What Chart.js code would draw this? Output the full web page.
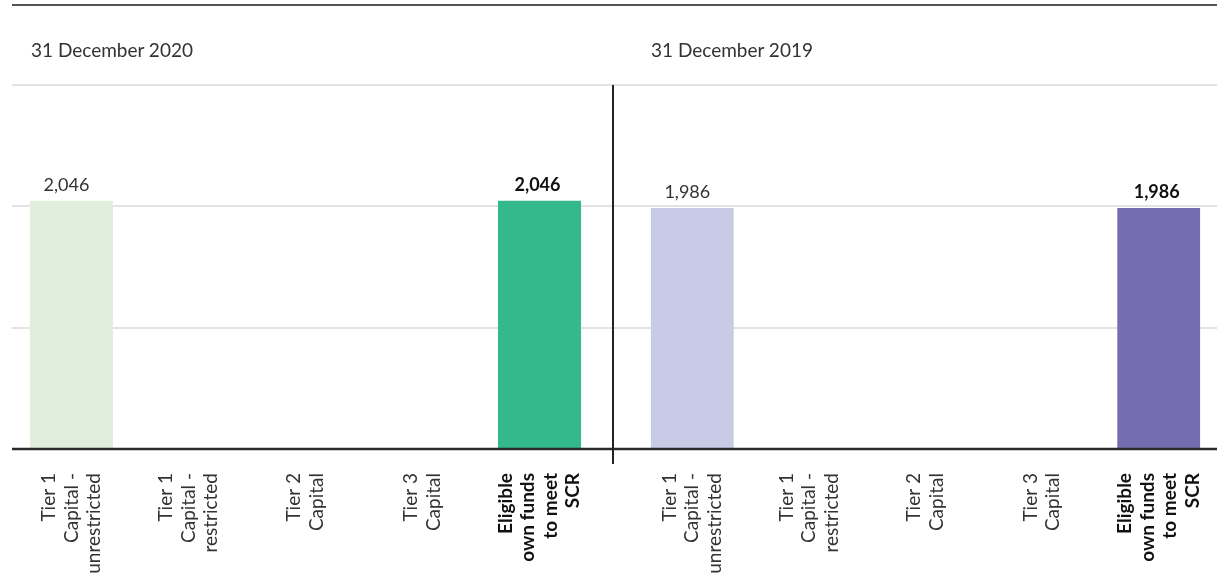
<!DOCTYPE html>
<html>
<head>
<meta charset="utf-8">
<script src="https://cdn.jsdelivr.net/npm/chart.js@4.4.0/dist/chart.umd.min.js"></script>
<style>
  body { margin: 0; background: #fff; font-family: Lato, sans-serif; }
  #wrap { position: relative; width: 1217px; height: 581px; overflow: hidden; }
  .panel { position: absolute; top: 0; height: 581px; }
  #left { left: 0; width: 613px; }
  #right { left: 613px; width: 604px; }
  .title { position: absolute; top: 38px; font-size: 19px; color: #333; }
  #topRule { position: absolute; left: 12px; top: 4px; width: 1205px; height: 2px; background: #555; }
  #divider { position: absolute; left: 612px; top: 85px; width: 2px; height: 379px; background: #222; }
</style>
</head>
<body>
<div id="wrap">
  <div id="topRule"></div>
  <div class="panel" id="left"><canvas id="chart2020"></canvas></div>
  <div class="panel" id="right"><canvas id="chart2019"></canvas></div>
  <div class="title" id="title2020" style="left:31px"></div>
  <div class="title" id="title2019" style="left:651px"></div>
  <div id="divider"></div>
</div>
<script>
// Chart data
const categories = [
    ['Tier 1', 'Capital -', 'unrestricted'],
    ['Tier 1', 'Capital -', 'restricted'],
    ['Tier 2', 'Capital'],
    ['Tier 3', 'Capital'],
    ['Eligible', 'own funds', 'to meet', 'SCR']
];
const values2020 = [2046, 0, 0, 0, 2046];
const values2019 = [1986, 0, 0, 0, 1986];
const colors2020 = ['#e2eedc', '#e2eedc', '#e2eedc', '#e2eedc', '#33b98b'];
const colors2019 = ['#c7cbe6', '#c7cbe6', '#c7cbe6', '#c7cbe6', '#766db0'];
const yTicks = [0, 1000, 2000, 3000];
const titles = ['31 December 2020', '31 December 2019'];

document.getElementById('title2020').textContent = titles[0];
document.getElementById('title2019').textContent = titles[1];

// Horizontal grid lines that run to the canvas edges
const fullGrid = {
    id: 'fullGrid',
    beforeDatasetsDraw(chart, args, opts) {
        const { ctx, scales: { y } } = chart;
        ctx.save();
        ctx.strokeStyle = '#e3e3e3';
        ctx.lineWidth = 2;
        yTicks.filter(v => v > 0).forEach(v => {
            const py = Math.round(y.getPixelForValue(v));
            ctx.beginPath();
            ctx.moveTo(opts.x0, py);
            ctx.lineTo(chart.width, py);
            ctx.stroke();
        });
        ctx.restore();
    },
    afterDatasetsDraw(chart, args, opts) {
        const { ctx, scales: { y } } = chart;
        const py = Math.round(y.getPixelForValue(yTicks[0]));
        ctx.save();
        ctx.strokeStyle = '#2a2a2a';
        ctx.lineWidth = 2.5;
        ctx.beginPath();
        ctx.moveTo(opts.x0, py);
        ctx.lineTo(chart.width, py);
        ctx.stroke();
        ctx.restore();
    }
};

// Value labels above bars
const valueLabels = {
    id: 'valueLabels',
    afterDatasetsDraw(chart) {
        const { ctx } = chart;
        const data = chart.data.datasets[0].data;
        const meta = chart.getDatasetMeta(0);
        ctx.save();
        ctx.textAlign = 'center';
        ctx.textBaseline = 'alphabetic';
        meta.data.forEach((bar, i) => {
            if (!data[i]) return;
            const bold = i === data.length - 1;
            ctx.font = (bold ? 'bold ' : '') + '18px Lato';
            ctx.fillStyle = bold ? '#111' : '#333';
            ctx.fillText(data[i].toLocaleString('en-US'), bar.x - (bold ? 2 : 5), bar.y - 10);
        });
        ctx.restore();
    }
};

// Rotated multi-line category labels under the axis
const categoryLabels = {
    id: 'categoryLabels',
    afterDraw(chart) {
        const { ctx, scales: { x, y } } = chart;
        const top = y.getPixelForValue(yTicks[0]) + 24;
        const lineH = 22.5;
        ctx.save();
        ctx.textAlign = 'right';
        ctx.textBaseline = 'middle';
        categories.forEach((lines, i) => {
            const cx = x.getPixelForValue(i);
            const bold = i === categories.length - 1;
            ctx.font = (bold ? 'bold ' : '') + '19px Lato';
            ctx.fillStyle = bold ? '#111' : '#333';
            lines.forEach((line, j) => {
                const lx = cx + (j - (lines.length - 1) / 2) * lineH;
                ctx.save();
                ctx.translate(lx, top);
                ctx.rotate(-Math.PI / 2);
                ctx.fillText(line, 0, 0);
                ctx.restore();
            });
        });
        ctx.restore();
    }
};

function makeChart(id, values, colors, padLeft, padRight, gridX0) {
    return new Chart(document.getElementById(id), {
        type: 'bar',
        data: {
            labels: categories.map(l => l.join(' ')),
            datasets: [{
                data: values,
                backgroundColor: colors,
                barPercentage: 0.71,
                categoryPercentage: 1
            }]
        },
        options: {
            responsive: true,
            maintainAspectRatio: false,
            animation: false,
            layout: { padding: { left: padLeft, right: padRight, top: 85, bottom: 124 } },
            scales: {
                x: {
                    grid: { display: false },
                    border: { display: false },
                    ticks: { display: false }
                },
                y: {
                    display: false,
                    min: yTicks[0],
                    max: yTicks[yTicks.length - 1],
                    ticks: { stepSize: 1000 }
                }
            },
            plugins: {
                legend: { display: false },
                tooltip: { enabled: false },
                fullGrid: { x0: gridX0 }
            }
        },
        plugins: [fullGrid, valueLabels, categoryLabels]
    });
}

makeChart('chart2020', values2020, colors2020, 13, 15, 12);
makeChart('chart2019', values2019, colors2019, 21, 0, 0);
</script>
</body>
</html>
